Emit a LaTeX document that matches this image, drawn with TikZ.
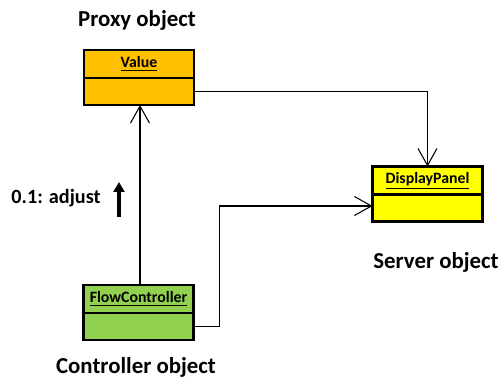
\documentclass[tikz,border=0pt]{standalone}
\usepackage{fontspec}
\setmainfont{Carlito}
\usepackage{xcolor}
\usetikzlibrary{positioning,arrows.meta}
\definecolor{proxygold}{RGB}{255,192,0}
\definecolor{serveryel}{RGB}{255,255,0}
\definecolor{ctrlgreen}{RGB}{146,208,80}

\begin{document}
\begin{tikzpicture}[x=0.02cm, y=-0.02cm,
  clstop/.style={draw, line width=1.6pt, outer sep=0pt, minimum width=2.2cm, minimum height=0.56cm, inner sep=0pt, font=\bfseries\fontsize{9}{10}\selectfont},
  clsbot/.style={draw, line width=1.6pt, outer sep=0pt, minimum width=2.2cm, minimum height=0.54cm, inner sep=0pt},
  link/.style={draw, line width=0.8pt, -{Straight Barb[length=0.34cm, width=0.38cm, line width=0.6pt]}},
  caption/.style={font=\bfseries\fontsize{13}{15}\selectfont, anchor=base, inner sep=0pt}
]
\useasboundingbox (0,0) rectangle (503,381);

% Proxy object
\node[clstop, fill=proxygold] (value) at (139,64) {\underline{Value}};
\node[clsbot, fill=proxygold, below=0pt of value] (valueb) {};
\node[caption] (proxylbl) at (137,27) {Proxy object};

% Server object
\node[clstop, fill=serveryel] (disp) at (427.5,180.5) {\underline{DisplayPanel}};
\node[clsbot, fill=serveryel, below=0pt of disp] (dispb) {};
\node[caption] (serverlbl) at (436,269) {Server object};

% Controller object
\node[clstop, fill=ctrlgreen] (flow) at (138.5,299) {\underline{FlowController}};
\node[clsbot, fill=ctrlgreen, below=0pt of flow] (flowb) {};
\node[caption] (ctrllbl) at (136,373) {Controller object};

% Message
\node[caption, font=\bfseries\fontsize{11.5}{13}\selectfont] (adjust) at (56,204) {0.1: adjust};
\coordinate (msgfrom) at (119,217);
\coordinate (msgto) at (119,182);
\draw[line width=2.2pt, -{Triangle[length=0.2cm, width=0.22cm]}] (msgfrom) -- (msgto);

% Links
\draw[link] (flow.north -| 140,0) -- (valueb.south -| 140,0);
\draw[link] (valueb.east) -| (disp.north);
\draw[link] (flowb.east) -- ++(26,0) |- ([yshift=0.04cm]dispb.west);

\end{tikzpicture}
\end{document}
